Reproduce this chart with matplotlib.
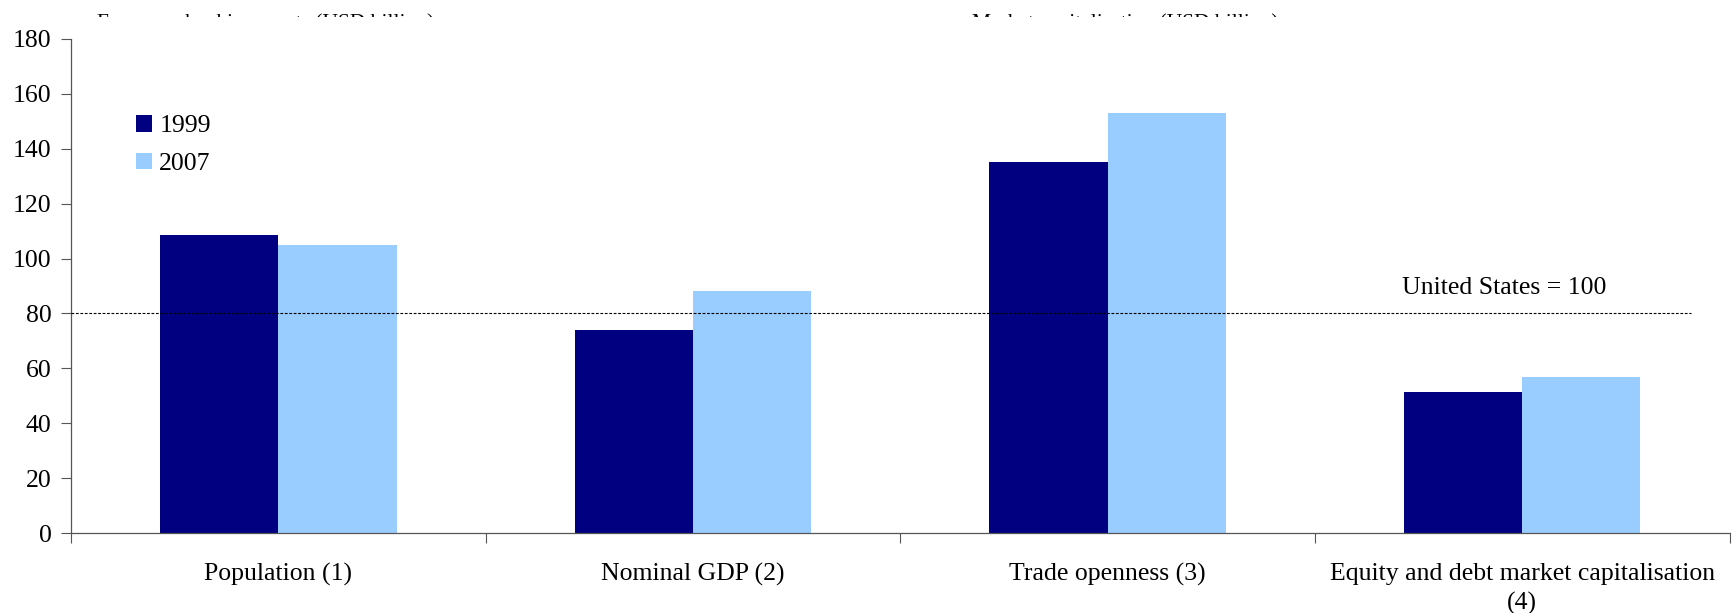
import matplotlib
matplotlib.use("Agg")
import matplotlib.pyplot as plt
from matplotlib.transforms import Bbox, TransformedBbox
import numpy as np

categories = ["Population (1)", "Nominal GDP (2)", "Trade openness (3)",
              "Equity and debt market capitalisation\n(4)"]
series_names = ["1999", "2007"]
values_1999 = [108.7, 74.1, 135.3, 51.5]
values_2007 = [105.0, 88.2, 153.0, 56.8]
reference_level = 80
reference_label = "United States = 100"
top_titles = ["Euro area banking assets (USD billion)", "Market capitalisation (USD billion)"]
yticks = [0, 20, 40, 60, 80, 100, 120, 140, 160, 180]

plt.rcParams['font.family'] = ['Liberation Serif', 'DejaVu Serif']
FS = 18.5

fig = plt.figure(figsize=(17.33, 6.13), dpi=100)
ax = fig.add_axes([0.041, 0.1305, 0.957, 0.8059])

x = np.arange(len(categories))
w = 0.285
c1 = "#000080"
c2 = "#99CCFF"
ax.bar(x - w, values_1999, width=w, align='edge', color=c1, label=series_names[0], zorder=2)
ax.bar(x, values_2007, width=w, align='edge', color=c2, label=series_names[1], zorder=2)

ax.set_xlim(-0.5, len(categories) - 0.5)
ax.set_ylim(0, 180)
ax.set_yticks(yticks)
ax.set_yticklabels([str(t) for t in yticks], fontsize=FS)

# category ticks at boundaries, labels at centers
ax.set_xticks(np.arange(len(categories) + 1) - 0.5)
ax.set_xticklabels([])
ax.tick_params(axis='x', direction='out', length=7, width=0.8, color='#555555')
ax.tick_params(axis='y', direction='out', length=7, width=0.8, color='#555555', pad=7)
for i, c in enumerate(categories):
    ax.text(i, -10.8, c, ha='center', va='top', fontsize=FS, linespacing=1.4)

for s in ['top', 'right']:
    ax.spines[s].set_visible(False)
for s in ['left', 'bottom']:
    ax.spines[s].set_color('#555555')
    ax.spines[s].set_linewidth(0.9)

ax.plot([-0.5, 3.406], [reference_level, reference_level], color='black', lw=0.8,
        linestyle=(0, (2.5, 1.5)), zorder=3)
ax.text(2.957, 89.2, reference_label, ha='center', va='center', fontsize=FS)

leg = ax.legend(loc='upper left', bbox_to_anchor=(0.025, 0.893), frameon=False, fontsize=FS,
                handlelength=0.62, handleheight=0.62, handletextpad=0.3, labelspacing=0.6)

# titles of a panel above, mostly cropped away
clip = TransformedBbox(Bbox([[0, 1 - 16.5 / 613], [1, 1]]), fig.transFigure)
for xpos, ttl in zip([0.056, 0.561], top_titles):
    t = fig.text(xpos, 1 - 13 / 613, ttl, ha='left', va='top', fontsize=15.5)
    t.set_clip_box(clip)
    t.set_clip_on(True)

fig.savefig("out.png", dpi=100)
